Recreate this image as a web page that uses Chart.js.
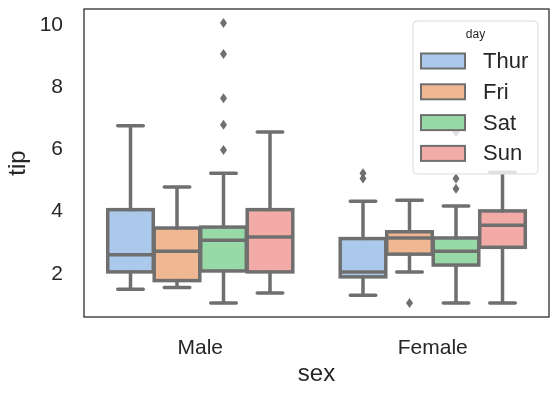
<!DOCTYPE html>
<html>
<head>
<meta charset="utf-8">
<script src="https://cdn.jsdelivr.net/npm/chart.js@4.4.0/dist/chart.umd.min.js"></script>
<style>
    html, body { margin: 0; padding: 0; background: #ffffff; }
</style>
</head>
<body>
<canvas id="chart" width="558" height="396"></canvas>
<script>
const sexes = ['Male', 'Female'];
const days = ['Thur', 'Fri', 'Sat', 'Sun'];
const yTicks = [2, 4, 6, 8, 10];

// one row per day, values as [Male, Female]
const whiskerLow = [[1.44, 1.25], [1.5, 2.0], [1.0, 1.0], [1.32, 1.0]];
const q1 = [[2.0, 1.84], [1.72, 2.57], [2.03, 2.22], [2.0, 2.79]];
const medians = [[2.55, 2.0], [2.66, 3.09], [3.02, 2.66], [3.12, 3.5]];
const q3 = [[4.0, 3.07], [3.41, 3.29], [3.44, 3.09], [4.0, 3.96]];
const whiskerHigh = [[6.7, 4.27], [4.73, 4.3], [5.17, 4.12], [6.5, 5.2]];
const outliers = [
    [[], [5.17, 5.0]],
    [[], [1.0]],
    [[10.0, 9.0, 7.58, 6.73, 5.92], [4.67, 5.0, 6.5]],
    [[], []]
];

const dayColors = ['#abc9ea', '#efb792', '#98daa7', '#f3aba8'];
const lineGray = '#6f6f6f';
const textColor = '#262626';
const fontFamily = "'Liberation Sans', Arial, sans-serif";

// Whiskers, caps, medians, box edges and fliers on top of the floating bars
const boxDetails = {
    id: 'boxDetails',
    afterDatasetsDraw(chart) {
        const ctx = chart.ctx;
        const y = chart.scales.y;
        ctx.save();
        ctx.strokeStyle = lineGray;
        ctx.fillStyle = lineGray;
        ctx.lineWidth = 3.5;
        days.forEach((day, i) => {
            const meta = chart.getDatasetMeta(i);
            meta.data.forEach((bar, j) => {
                const x = bar.x;
                const w = bar.width;
                const yq1 = y.getPixelForValue(q1[i][j]);
                const yq3 = y.getPixelForValue(q3[i][j]);
                const capW = w * 0.56;

                ctx.lineCap = 'round';
                ctx.beginPath();
                ctx.moveTo(x, yq3);
                ctx.lineTo(x, y.getPixelForValue(whiskerHigh[i][j]));
                ctx.moveTo(x, yq1);
                ctx.lineTo(x, y.getPixelForValue(whiskerLow[i][j]));
                [whiskerHigh[i][j], whiskerLow[i][j]].forEach(v => {
                    const py = y.getPixelForValue(v);
                    ctx.moveTo(x - capW / 2, py);
                    ctx.lineTo(x + capW / 2, py);
                });
                ctx.stroke();

                ctx.lineCap = 'butt';
                ctx.lineJoin = 'miter';
                ctx.strokeRect(x - w / 2, yq3, w, yq1 - yq3);
                const ym = y.getPixelForValue(medians[i][j]);
                ctx.beginPath();
                ctx.moveTo(x - w / 2, ym);
                ctx.lineTo(x + w / 2, ym);
                ctx.stroke();

                outliers[i][j].forEach(v => {
                    const py = y.getPixelForValue(v);
                    ctx.beginPath();
                    ctx.moveTo(x, py - 5);
                    ctx.lineTo(x + 3.5, py);
                    ctx.lineTo(x, py + 5);
                    ctx.lineTo(x - 3.5, py);
                    ctx.closePath();
                    ctx.fill();
                });
            });
        });
        ctx.restore();
    },
    afterDraw(chart) {
        const ctx = chart.ctx;
        const area = chart.chartArea;
        ctx.save();
        ctx.strokeStyle = textColor;
        ctx.lineWidth = 1.25;
        ctx.strokeRect(area.left, area.top, area.right - area.left, area.bottom - area.top);

        // legend box in the upper right corner
        const lw = 125, lh = 153;
        const lx = area.right - 11 - lw;
        const ly = area.top + 12;
        ctx.beginPath();
        ctx.roundRect(lx, ly, lw, lh, 4);
        ctx.fillStyle = 'rgba(255,255,255,0.8)';
        ctx.fill();
        ctx.strokeStyle = '#dcdcdc';
        ctx.lineWidth = 1;
        ctx.stroke();

        ctx.fillStyle = textColor;
        ctx.textAlign = 'center';
        ctx.textBaseline = 'middle';
        ctx.font = '12px ' + fontFamily;
        ctx.fillText('day', lx + lw / 2, ly + 14);

        ctx.textAlign = 'left';
        ctx.font = '22px ' + fontFamily;
        days.forEach((day, i) => {
            const cy = ly + 40 + i * 30.8;
            ctx.fillStyle = dayColors[i];
            ctx.fillRect(lx + 8, cy - 7.5, 44, 15);
            ctx.strokeStyle = lineGray;
            ctx.lineWidth = 2;
            ctx.strokeRect(lx + 8, cy - 7.5, 44, 15);
            ctx.fillStyle = textColor;
            ctx.fillText(day, lx + 70, cy + 1);
        });
        ctx.restore();
    }
};

function noPadding(scale) {
    scale.paddingTop = 0;
    scale.paddingBottom = 0;
    scale.paddingLeft = 0;
    scale.paddingRight = 0;
}

new Chart(document.getElementById('chart'), {
    type: 'bar',
    data: {
        labels: sexes,
        datasets: days.map((day, i) => ({
            label: day,
            data: sexes.map((s, j) => [q1[i][j], q3[i][j]]),
            backgroundColor: dayColors[i],
            borderWidth: 0,
            categoryPercentage: 0.8,
            barPercentage: 0.98
        }))
    },
    options: {
        responsive: false,
        animation: false,
        devicePixelRatio: 1,
        layout: { padding: { top: 9, right: 9, left: 0, bottom: 0 } },
        plugins: {
            legend: { display: false },
            tooltip: { enabled: false }
        },
        scales: {
            x: {
                grid: { display: false },
                border: { display: false },
                ticks: { color: textColor, font: { family: fontFamily, size: 21 }, padding: 11 },
                title: { display: true, text: 'sex', color: textColor, font: { family: fontFamily, size: 24 }, padding: { bottom: 7 } },
                afterFit: scale => { scale.height = 79; noPadding(scale); }
            },
            y: {
                min: 0.55,
                max: 10.45,
                grid: { display: false },
                border: { display: false },
                afterBuildTicks: scale => { scale.ticks = yTicks.map(v => ({ value: v })); },
                ticks: { color: textColor, font: { family: fontFamily, size: 21 }, padding: 13, labelOffset: 2 },
                title: { display: true, text: 'tip', color: textColor, font: { family: fontFamily, size: 24 }, padding: { top: 3.5 } },
                afterFit: scale => { scale.width = 84; noPadding(scale); }
            }
        }
    },
    plugins: [boxDetails]
});
</script>
</body>
</html>
